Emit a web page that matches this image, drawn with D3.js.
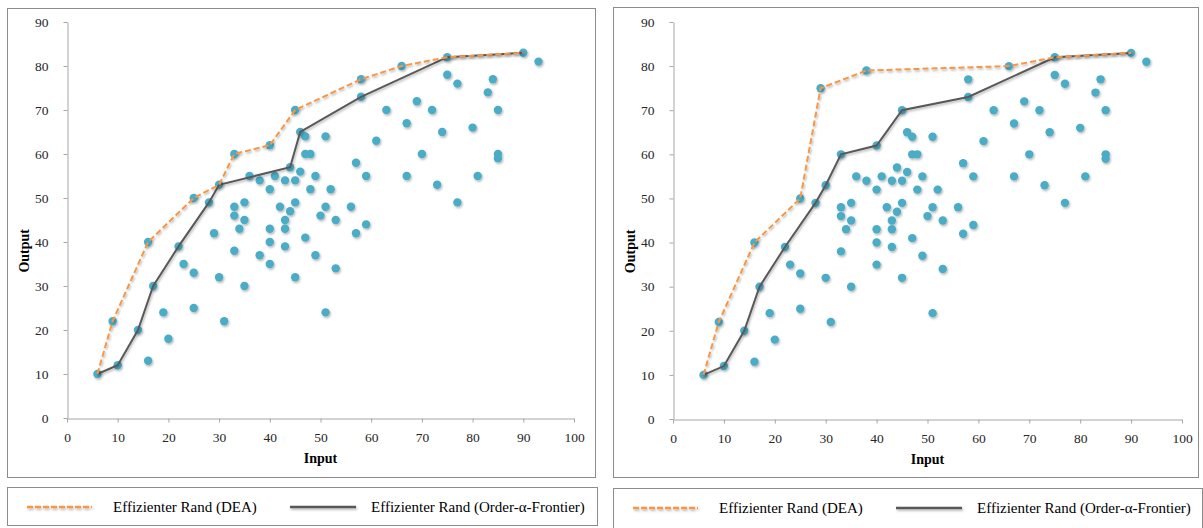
<!DOCTYPE html>
<html>
<head>
<meta charset="utf-8">
<title>DEA vs Order-alpha Frontier</title>
<script src="https://d3js.org/d3.v7.min.js"></script>
<style>
  html, body { margin: 0; padding: 0; background: #fff; }
  svg { display: block; }
</style>
</head>
<body>
<div id="chart"></div>
<script>
// Data
const inputs = [6,9,10,14,16,16,17,19,20,22,23,25,25,25,28,29,30,30,31,33,33,33,33,34,35,35,35,36,38,38,
  40,40,40,40,40,41,42,43,43,43,43,44,44,45,45,45,45,46,46,47,47,47,48,48,49,49,50,51,51,51,52,53,53,
  56,57,57,58,58,59,59,61,63,66,67,67,69,70,72,73,74,75,75,77,77,80,81,83,84,85,85,85,90,93];
const outputsLeft = [10,22,12,20,13,40,30,24,18,39,35,25,33,50,49,42,32,53,22,38,46,48,60,43,30,45,49,55,37,54,
  35,40,43,52,62,55,48,39,43,45,54,47,57,32,49,54,70,56,65,41,60,64,52,60,37,55,46,24,48,64,52,34,45,
  48,42,58,73,77,44,55,63,70,80,55,67,72,60,70,53,65,78,82,49,76,66,55,74,77,59,60,70,83,81];
// right chart: two firms moved up (29 -> 75, 38 -> 79)
const outputsRight = [10,22,12,20,13,40,30,24,18,39,35,25,33,50,49,75,32,53,22,38,46,48,60,43,30,45,49,55,79,54,
  35,40,43,52,62,55,48,39,43,45,54,47,57,32,49,54,70,56,65,41,60,64,52,60,37,55,46,24,48,64,52,34,45,
  48,42,58,73,77,44,55,63,70,80,55,67,72,60,70,53,65,78,82,49,76,66,55,74,77,59,60,70,83,81];

const deaLeftX = [6,9,16,25,30,33,40,45,58,66,75,90];
const deaLeftY = [10,22,40,50,53,60,62,70,77,80,82,83];
const orderLeftX = [6,10,14,17,22,28,30,44,46,58,75,90];
const orderLeftY = [10,12,20,30,39,49,53,57,65,73,82,83];

const deaRightX = [6,9,16,25,29,38,66,75,90];
const deaRightY = [10,22,40,50,75,79,80,82,83];
const orderRightX = [6,10,14,17,22,28,30,33,40,45,58,75,90];
const orderRightY = [10,12,20,30,39,49,53,60,62,70,73,82,83];

const xTicks = [0,10,20,30,40,50,60,70,80,90,100];
const yTicks = [0,10,20,30,40,50,60,70,80,90];
const legendLabels = ["Effizienter Rand (DEA)", "Effizienter Rand (Order-\u03b1-Frontier)"];

const W = 1203, H = 528;
const dotColor = "#4bacc6", deaColor = "#f79646", orderColor = "#595959";
const serif = "'Liberation Serif', 'Times New Roman', serif";

const svg = d3.select("#chart").append("svg")
  .attr("width", W).attr("height", H);

// soft shadow like the office chart
const defs = svg.append("defs");
const f = defs.append("filter").attr("id", "shadow")
  .attr("filterUnits", "userSpaceOnUse")
  .attr("x", 0).attr("y", 0).attr("width", W).attr("height", H);
f.append("feDropShadow").attr("dx", 1).attr("dy", 1.5).attr("stdDeviation", 0.9)
  .attr("flood-color", "#000").attr("flood-opacity", 0.3);

function zip(a, b) { return a.map((v, i) => [v, b[i]]); }

function drawPanel(p) {
  const g = svg.append("g");

  // outer frame
  g.append("rect")
    .attr("x", p.box[0] + 0.5).attr("y", p.box[1] + 0.5)
    .attr("width", p.box[2] - p.box[0]).attr("height", p.box[3] - p.box[1])
    .attr("fill", "none").attr("stroke", "#8c8c8c").attr("stroke-width", 1);

  const x = d3.scaleLinear().domain([0, 100]).range([p.x0, p.x1]);
  const y = d3.scaleLinear().domain([0, 90]).range([p.y0, p.y1]);

  const yAxis = g.append("g")
    .attr("transform", `translate(${p.x0 + 0.5},0)`)
    .call(d3.axisLeft(y).tickValues(yTicks).tickSize(4).tickPadding(15).tickSizeOuter(0));
  const xAxis = g.append("g")
    .attr("transform", `translate(0,${p.y0 + 0.5})`)
    .call(d3.axisBottom(x).tickValues(xTicks).tickSize(4).tickPadding(10).tickSizeOuter(0));

  [xAxis, yAxis].forEach(a => {
    a.attr("font-family", serif).attr("font-size", 13.5);
    a.selectAll("path, line").attr("stroke", "#a6a6a6");
    a.selectAll("text").attr("fill", "#262626");
  });

  g.append("text")
    .attr("x", x(50)).attr("y", p.y0 + 45)
    .attr("text-anchor", "middle")
    .attr("font-family", serif).attr("font-size", 14).attr("font-weight", "bold")
    .text("Input");
  g.append("text")
    .attr("transform", `translate(${p.x0 - 38},${y(38)}) rotate(-90)`)
    .attr("text-anchor", "middle")
    .attr("font-family", serif).attr("font-size", 14).attr("font-weight", "bold")
    .text("Output");

  // scatter points
  g.append("g").attr("filter", "url(#shadow)")
    .selectAll("circle")
    .data(zip(inputs, p.outputs))
    .join("circle")
    .attr("cx", d => x(d[0])).attr("cy", d => y(d[1]))
    .attr("r", 4.2)
    .attr("fill", dotColor);

  const line = d3.line().x(d => x(d[0])).y(d => y(d[1]));

  g.append("path")
    .datum(zip(p.orderX, p.orderY))
    .attr("d", line)
    .attr("fill", "none").attr("stroke", orderColor).attr("stroke-width", 2)
    .attr("filter", "url(#shadow)");
  g.append("path")
    .datum(zip(p.deaX, p.deaY))
    .attr("d", line)
    .attr("fill", "none").attr("stroke", deaColor).attr("stroke-width", 2)
    .attr("stroke-dasharray", "6,3")
    .attr("filter", "url(#shadow)");

  // legend box
  const L = p.legend;
  g.append("rect")
    .attr("x", L[0] + 0.5).attr("y", L[1] + 0.5)
    .attr("width", L[2] - L[0]).attr("height", L[3] - L[1])
    .attr("fill", "none").attr("stroke", "#8c8c8c").attr("stroke-width", 1);
  const ly = L[1] + 20;
  g.append("line")
    .attr("x1", L[0] + 20).attr("x2", L[0] + 85).attr("y1", ly).attr("y2", ly)
    .attr("stroke", deaColor).attr("stroke-width", 2.5).attr("stroke-dasharray", "6,2")
    .attr("filter", "url(#shadow)");
  g.append("text")
    .attr("x", L[0] + 106).attr("y", ly + 5)
    .attr("font-family", serif).attr("font-size", 15).attr("fill", "#000")
    .text(legendLabels[0]);
  g.append("line")
    .attr("x1", L[0] + 283).attr("x2", L[0] + 349).attr("y1", ly).attr("y2", ly)
    .attr("stroke", orderColor).attr("stroke-width", 2.5)
    .attr("filter", "url(#shadow)");
  g.append("text")
    .attr("x", L[0] + 364).attr("y", ly + 5)
    .attr("font-family", serif).attr("font-size", 15).attr("fill", "#000")
    .text(legendLabels[1]);
}

drawPanel({
  box: [7, 8, 595, 477], x0: 67, x1: 574, y0: 418, y1: 22,
  outputs: outputsLeft,
  deaX: deaLeftX, deaY: deaLeftY, orderX: orderLeftX, orderY: orderLeftY,
  legend: [7, 487, 597, 525]
});
drawPanel({
  box: [613, 7, 1198, 477], x0: 673, x1: 1182, y0: 419, y1: 22,
  outputs: outputsRight,
  deaX: deaRightX, deaY: deaRightY, orderX: orderRightX, orderY: orderRightY,
  legend: [613, 488, 1202, 530]
});
</script>
</body>
</html>
